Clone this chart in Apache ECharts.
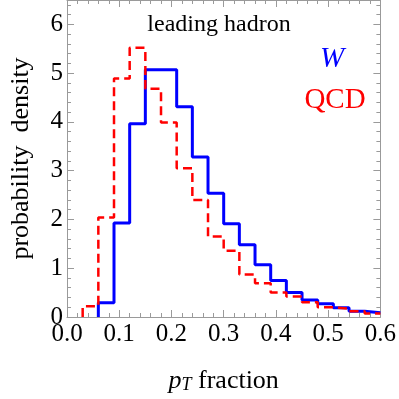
<!DOCTYPE html>
<html>
<head>
<meta charset="utf-8">
<script src="https://cdn.jsdelivr.net/npm/echarts@6/dist/echarts.min.js"></script>
<style>html,body{margin:0;padding:0;background:#fff}#c{width:399px;height:399px}</style>
</head>
<body>
<div id="c"></div>
<script>
// bin edges (left edges of each bin, then final right edge)
var wEdges = [0.06,0.09,0.12,0.15,0.18,0.21,0.24,0.27,0.30,0.33,0.36,0.39,0.42,0.45,0.48,0.51,0.54,0.57,0.60];
var wValues = [0.29,1.93,3.96,5.07,5.07,4.31,3.28,2.54,1.91,1.48,1.07,0.75,0.50,0.35,0.27,0.19,0.12,0.085];
var qcdEdges = [0.03,0.06,0.09,0.12,0.15,0.18,0.21,0.24,0.27,0.30,0.33,0.36,0.39,0.42,0.45,0.48,0.51,0.54,0.57,0.60];
var qcdValues = [0.22,2.04,4.89,5.52,4.68,3.99,3.05,2.40,1.65,1.36,0.87,0.69,0.50,0.42,0.30,0.20,0.17,0.12,0.07];
var xTicks = ['0.0','0.1','0.2','0.3','0.4','0.5','0.6'];
var yTicks = ['0','1','2','3','4','5','6'];

function stepData(edges, vals){
  var d = [[edges[0], 0]];
  for (var i = 0; i < vals.length; i++) d.push([edges[i+1], vals[i]]);
  return d;
}
var serif = '"Liberation Serif", "Times New Roman", serif';
var frame = '#9a9a9a';
function axisCommon(){
  return {
    axisLine:{show:true,onZero:false,lineStyle:{color:frame,width:1}},
    axisTick:{show:true,inside:true,length:7,lineStyle:{color:frame}},
    minorTick:{show:true,splitNumber:5,length:4,lineStyle:{color:frame}},
    splitLine:{show:false}
  };
}
var chart = echarts.init(document.getElementById('c'), null, {renderer:'canvas'});
var xb = Object.assign(axisCommon(), {
  type:'value', min:0, max:0.6, interval:0.1, position:'bottom',
  axisLabel:{color:'#000',fontFamily:serif,fontSize:25,margin:5,
    formatter:function(v){ var i=Math.round(v*10); return xTicks[i]; }},
  name:'{i|p}{s|T}{n| fraction}', nameLocation:'middle', nameGap:51,
  nameTextStyle:{rich:{
    i:{fontFamily:serif,fontStyle:'italic',fontSize:26,color:'#000'},
    s:{fontFamily:serif,fontStyle:'italic',fontSize:18,color:'#000',padding:[8,0,0,0]},
    n:{fontFamily:serif,fontSize:26,color:'#000'}
  }}
});
var xt = Object.assign(axisCommon(), {
  type:'value', min:0, max:0.6, interval:0.1, position:'top', axisLabel:{show:false}
});
var yl = Object.assign(axisCommon(), {
  type:'value', min:0, max:6.5, interval:1, position:'left',
  axisLabel:{color:'#000',fontFamily:serif,fontSize:25,margin:4,showMaxLabel:false,
    formatter:function(v){ return Math.abs(v-Math.round(v))<1e-6 ? yTicks[Math.round(v)] : ''; }},
  name:'probability  density', nameLocation:'middle', nameGap:33,
  nameTextStyle:{fontFamily:serif,fontSize:26,color:'#000'}
});
var yr = Object.assign(axisCommon(), {
  type:'value', min:0, max:6.5, interval:1, position:'right', axisLabel:{show:false}
});
chart.setOption({
  animation:false,
  grid:{left:55,right:17,top:0,bottom:72,containLabel:false},
  xAxis:[xb, xt],
  yAxis:[yl, yr],
  graphic:[
    {type:'text',style:{text:'leading hadron',fontFamily:serif,fontSize:24,fill:'#000',x:219,y:25,align:'center',verticalAlign:'middle'}},
    {type:'text',style:{text:'W',fontFamily:serif,fontStyle:'italic',fontSize:29,fill:'#0000ff',x:332,y:59,align:'center',verticalAlign:'middle'}},
    {type:'text',style:{text:'QCD',fontFamily:serif,fontSize:29,fill:'#ff0000',x:335,y:100,align:'center',verticalAlign:'middle'}}
  ],
  series:[
    {type:'line',step:'start',data:stepData(wEdges,wValues),showSymbol:false,symbol:'none',
     lineStyle:{color:'#0000ff',width:3},z:2},
    {type:'line',step:'start',data:stepData(qcdEdges,qcdValues),showSymbol:false,symbol:'none',
     lineStyle:{color:'#ff0000',width:2.5,type:[9,5]},z:3}
  ]
});
</script>
</body>
</html>
